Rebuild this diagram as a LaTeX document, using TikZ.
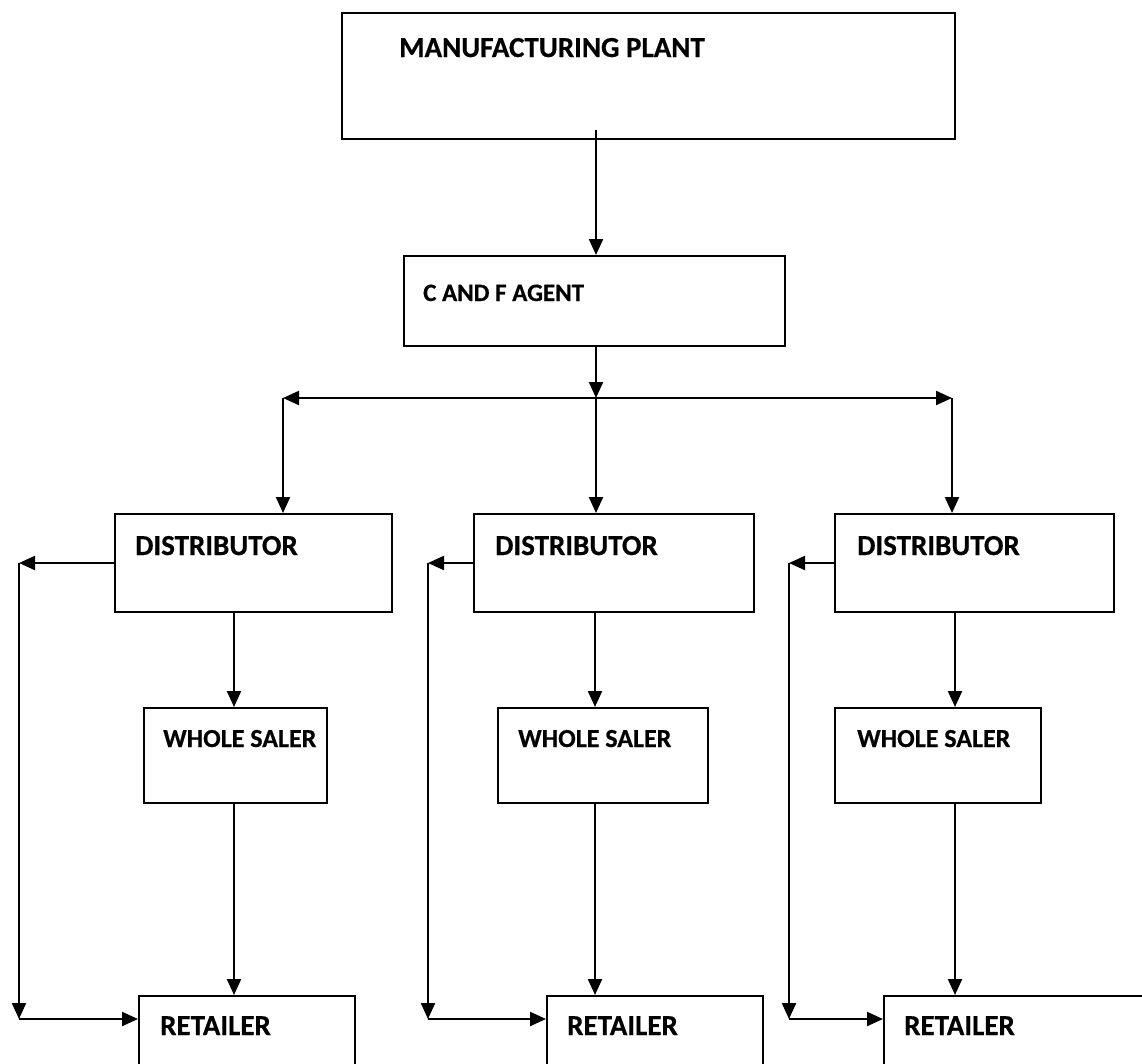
\documentclass[tikz,border=0pt]{standalone}
\usepackage{fontspec}
\setmainfont[BoldFeatures={FakeBold=0.5}]{Carlito}
\usetikzlibrary{arrows.meta}
\begin{document}
\begin{tikzpicture}[x=1pt,y=-1pt,
  box/.style={draw, line width=2pt, rectangle, anchor=north west, inner sep=0pt},
  lbl/.style={anchor=base west, inner sep=0pt, font=\fontsize{28}{32}\selectfont\bfseries},
  arr/.style={line width=2.2pt, -{Triangle[length=16pt,width=14pt]}}]
\useasboundingbox (0,0) rectangle (1142,1063);
\clip (0,0) rectangle (1142,1063);
% boxes
\node[box, minimum width=613pt, minimum height=126pt] (mp) at (341,12) {};
\node[box, minimum width=381pt, minimum height=90pt] (cf) at (403,255) {};
\node[box, minimum width=277pt, minimum height=98pt] (d1) at (114,513) {};
\node[box, minimum width=280pt, minimum height=98pt] (d2) at (473,513) {};
\node[box, minimum width=279pt, minimum height=98pt] (d3) at (834,513) {};
\node[box, minimum width=183pt, minimum height=95pt] (w1) at (143,707) {};
\node[box, minimum width=210pt, minimum height=95pt] (w2) at (497,707) {};
\node[box, minimum width=206pt, minimum height=95pt] (w3) at (834,707) {};
\node[box, minimum width=216pt, minimum height=100pt] (r1) at (138,995) {};
\node[box, minimum width=216pt, minimum height=100pt] (r2) at (546,995) {};
\node[box, minimum width=270pt, minimum height=100pt] (r3) at (883,995) {};
% labels
\node[lbl, font=\fontsize{29}{33}\selectfont\bfseries] (tmp) at (399,57) {MANUFACTURING PLANT};
\node[lbl, font=\fontsize{25}{29}\selectfont\bfseries] (tcf) at (423,301) {C AND F AGENT};
\node[lbl, font=\fontsize{29}{33}\selectfont\bfseries] (td1) at (135,555) {DISTRIBUTOR};
\node[lbl, font=\fontsize{29}{33}\selectfont\bfseries] (td2) at (495,555) {DISTRIBUTOR};
\node[lbl, font=\fontsize{29}{33}\selectfont\bfseries] (td3) at (857,555) {DISTRIBUTOR};
\node[lbl, font=\fontsize{26}{30}\selectfont\bfseries] (tw1) at (163,747) {WHOLE SALER};
\node[lbl, font=\fontsize{26}{30}\selectfont\bfseries] (tw2) at (518,747) {WHOLE SALER};
\node[lbl, font=\fontsize{26}{30}\selectfont\bfseries] (tw3) at (857,747) {WHOLE SALER};
\node[lbl, font=\fontsize{29}{33}\selectfont\bfseries] (tr1) at (160,1035) {RETAILER};
\node[lbl, font=\fontsize{29}{33}\selectfont\bfseries] (tr2) at (567,1035) {RETAILER};
\node[lbl, font=\fontsize{29}{33}\selectfont\bfseries] (tr3) at (904,1035) {RETAILER};
% column coordinates
\coordinate (top) at (596,130);
\coordinate (hub) at (596,398);
\coordinate (hl) at (283,398);
\coordinate (hr) at (952,398);
\coordinate (c1) at (234,0);
\coordinate (c2) at (595,0);
\coordinate (c3) at (955,0);
\coordinate (l1) at (19,563);
\coordinate (l2) at (428,563);
\coordinate (l3) at (789,563);
\coordinate (b1) at (19,1019);
\coordinate (b2) at (428,1019);
\coordinate (b3) at (789,1019);
% main trunk
\draw[arr] (top) -- (top |- cf.north);
\draw[arr] (hub |- cf.south) -- (hub);
\draw[arr] (hub) -- (hl);
\draw[arr] (hub) -- (hr);
\draw[arr] (hl) -- (hl |- d1.north);
\draw[arr] (hub) -- (hub |- d2.north);
\draw[arr] (hr) -- (hr |- d3.north);
% distributor -> wholesaler -> retailer
\draw[arr] (c1 |- d1.south) -- (c1 |- w1.north);
\draw[arr] (c2 |- d2.south) -- (c2 |- w2.north);
\draw[arr] (c3 |- d3.south) -- (c3 |- w3.north);
\draw[arr] (c1 |- w1.south) -- (c1 |- r1.north);
\draw[arr] (c2 |- w2.south) -- (c2 |- r2.north);
\draw[arr] (c3 |- w3.south) -- (c3 |- r3.north);
% bypass loops
\draw[arr] (d1.west |- l1) -- (l1);
\draw[arr] (l1) -- (b1);
\draw[arr] (b1) -- (b1 -| r1.west);
\draw[arr] (d2.west |- l2) -- (l2);
\draw[arr] (l2) -- (b2);
\draw[arr] (b2) -- (b2 -| r2.west);
\draw[arr] (d3.west |- l3) -- (l3);
\draw[arr] (l3) -- (b3);
\draw[arr] (b3) -- (b3 -| r3.west);
\end{tikzpicture}
\end{document}
